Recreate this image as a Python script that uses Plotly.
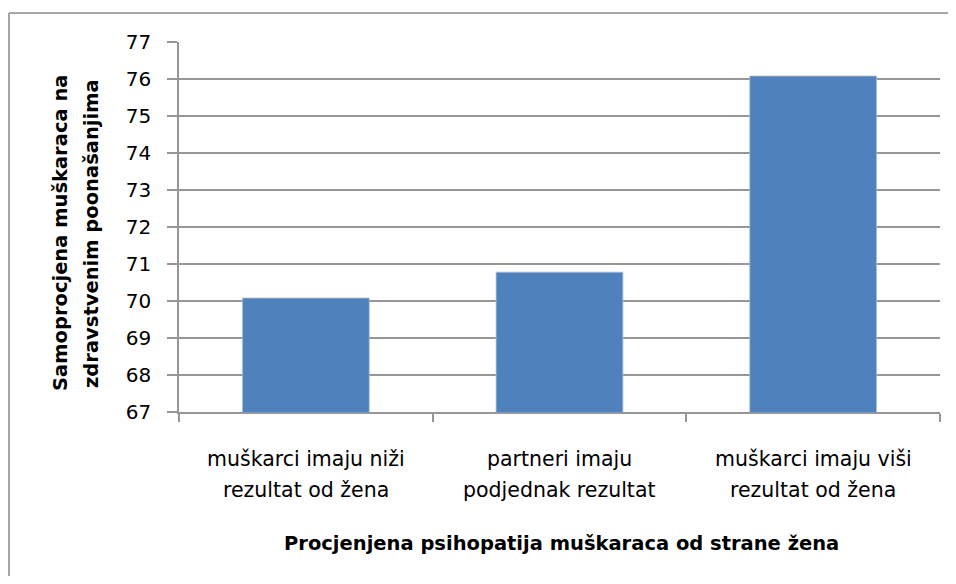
import plotly.graph_objects as go

categories = ["c1", "c2", "c3"]
label_line1 = ["muškarci imaju niži", "partneri imaju", "muškarci imaju viši"]
label_line2 = ["rezultat od žena", "podjednak rezultat", "rezultat od žena"]
values = [70.08, 70.78, 76.08]
y_ticks = list(range(67, 78))
x_title = "Procjenjena psihopatija muškaraca od strane žena"
y_title1 = "Samoprocjena muškaraca na"
y_title2 = "zdravstvenim poonašanjima"

OFF = 8  # page body margin
W, H = 956 - 2 * OFF, 584 - 2 * OFF
# plot area in reference-image pixels: x 179..940, y 42..412
L, R, T, B = 179 - OFF, W - (940 - OFF), 42 - OFF, H - (412 - OFF)
pw, ph = W - L - R, H - T - B

def px_x(x):
    return (x - OFF - L) / pw

def px_y(y):
    return (H - B - (y - OFF)) / ph

FONT = "DejaVu Sans"
GRID = "#969696"

fig = go.Figure(go.Bar(
    x=categories, y=values,
    marker=dict(color="#4F81BD", line=dict(color="#A9C0DE", width=0.8)),
))

fig.update_layout(
    width=W, height=H,
    margin=dict(l=L, r=R, t=T, b=B),
    paper_bgcolor="white", plot_bgcolor="white",
    bargap=0.5, showlegend=False,
    xaxis=dict(
        type="category", showticklabels=False, tickson="boundaries",
        ticks="outside", ticklen=8, tickcolor=GRID, tickwidth=1.5,
        showline=True, linecolor=GRID, linewidth=1.5, showgrid=False,
    ),
    yaxis=dict(
        range=[67, 77], tickvals=y_ticks, ticks="outside", ticklen=10,
        tickcolor=GRID, tickwidth=1.5, showline=True, linecolor=GRID, linewidth=1.5,
        showgrid=True, gridcolor=GRID, gridwidth=1.5, zeroline=False,
        tickfont=dict(family=FONT, size=20, color="#000000"), ticklabelstandoff=12,
    ),
)

anns = []
tick_font = dict(family=FONT, size=20.5, color="#000")
for c, l1, l2 in zip(categories, label_line1, label_line2):
    anns.append(dict(x=c, xref="x", y=px_y(459), yref="paper", text=l1, showarrow=False,
                     font=tick_font, yanchor="middle"))
    anns.append(dict(x=c, xref="x", y=px_y(490), yref="paper", text=l2, showarrow=False,
                     font=tick_font, yanchor="middle"))
title_font = dict(family=FONT, size=19.5, color="#000")
anns.append(dict(x=px_x(561), xref="paper", y=px_y(543), yref="paper", text="<b>" + x_title + "</b>",
                 showarrow=False, font=title_font, yanchor="middle"))
anns.append(dict(x=px_x(60), xref="paper", y=px_y(233), yref="paper", text="<b>" + y_title1 + "</b>",
                 showarrow=False, textangle=-90, font=title_font,
                 xanchor="center", yanchor="middle"))
anns.append(dict(x=px_x(91), xref="paper", y=px_y(234), yref="paper", text="<b>" + y_title2 + "</b>",
                 showarrow=False, textangle=-90, font=title_font,
                 xanchor="center", yanchor="middle"))
fig.update_layout(annotations=anns)

# chart-area border: only top and left edges are visible in the cropped reference
border = dict(color="#A6A6A6", width=2)
fig.add_shape(type="line", xref="paper", yref="paper",
              x0=px_x(9), x1=px_x(970), y0=px_y(13), y1=px_y(13), line=border)
fig.add_shape(type="line", xref="paper", yref="paper",
              x0=px_x(9), x1=px_x(9), y0=px_y(13), y1=px_y(600), line=border)

fig.write_html("out.html")
